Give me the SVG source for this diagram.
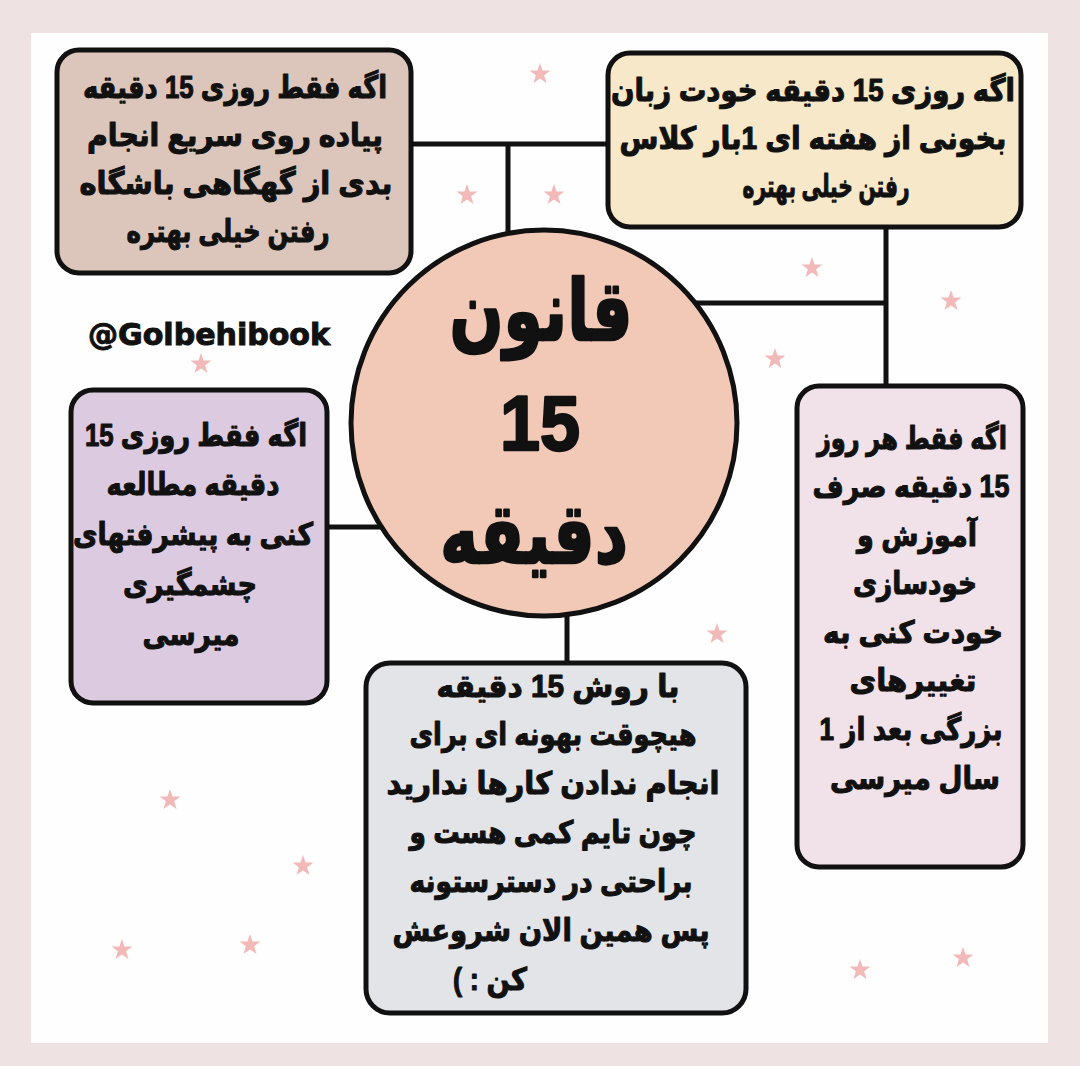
<svg xmlns="http://www.w3.org/2000/svg" width="1080" height="1066" viewBox="0 0 1080 1066">
  <style>
    .fa { font-family: 'Liberation Sans', 'DejaVu Sans', sans-serif; font-weight: bold; font-size: 31px; text-anchor: middle; fill: #111; stroke: #111; stroke-width: 1.1; stroke-linejoin: round; direction: rtl; }
    .big { font-family: 'Liberation Sans', 'DejaVu Sans', sans-serif; font-weight: bold; text-anchor: middle; fill: #111; stroke: #111; stroke-width: 2.5; stroke-linejoin: round; direction: rtl; }
    .box { stroke: #111; stroke-width: 5; }
    .line { stroke: #111; stroke-width: 5; fill: none; }
    .star { fill: #f2b9b9; }
  </style>
  <defs>
    <polygon id="star" points="0,-11 2.59,-3.56 10.46,-3.4 4.18,1.36 6.47,8.9 0,4.4 -6.47,8.9 -4.18,1.36 -10.46,-3.4 -2.59,-3.56"/>
  </defs>

  <rect x="0" y="0" width="1080" height="1066" fill="#efe2e2"/>
  <rect x="31" y="33" width="1017" height="1010" fill="#fefefe"/>

  <g id="stars" class="star">
    <use href="#star" x="540" y="74"/>
    <use href="#star" x="467" y="195"/>
    <use href="#star" x="554" y="195"/>
    <use href="#star" x="812" y="268"/>
    <use href="#star" x="951" y="301"/>
    <use href="#star" x="775" y="359"/>
    <use href="#star" x="201" y="364"/>
    <use href="#star" x="717" y="634"/>
    <use href="#star" x="170" y="800"/>
    <use href="#star" x="303" y="866"/>
    <use href="#star" x="122" y="950"/>
    <use href="#star" x="250" y="945"/>
    <use href="#star" x="860" y="970"/>
    <use href="#star" x="963" y="958"/>
  </g>

  <g id="connectors" class="line">
    <line x1="410" y1="144" x2="607" y2="144"/>
    <line x1="508" y1="144" x2="508" y2="235"/>
    <line x1="886" y1="226" x2="886" y2="388"/>
    <line x1="693" y1="303" x2="886" y2="303"/>
    <line x1="324" y1="527" x2="384" y2="527"/>
    <line x1="567" y1="612" x2="567" y2="665"/>
  </g>

  <g id="node-top-left">
    <rect class="box" x="57" y="50" width="354" height="223" rx="22" fill="#dcc6bc"/>
    <text class="fa" x="235" y="98" textLength="304" lengthAdjust="spacingAndGlyphs">اگه فقط روزی 15 دقیقه</text>
    <text class="fa" x="235" y="146" textLength="296" lengthAdjust="spacingAndGlyphs">پیاده روی سریع انجام</text>
    <text class="fa" x="236" y="194" textLength="313" lengthAdjust="spacingAndGlyphs">بدی از گهگاهی باشگاه</text>
    <text class="fa" x="228" y="242" textLength="203" lengthAdjust="spacingAndGlyphs">رفتن خیلی بهتره</text>
  </g>

  <g id="node-top-right">
    <rect class="box" x="608" y="53" width="413" height="174" rx="22" fill="#f6e8c8"/>
    <text class="fa" x="813" y="101" textLength="404" lengthAdjust="spacingAndGlyphs">اگه روزی 15 دقیقه خودت زبان</text>
    <text class="fa" x="813" y="149" textLength="387" lengthAdjust="spacingAndGlyphs">بخونی از هفته ای 1بار کلاس</text>
    <text class="fa" x="826" y="197" textLength="167" lengthAdjust="spacingAndGlyphs">رفتن خیلی بهتره</text>
  </g>

  <g id="node-center">
    <circle class="box" cx="544" cy="423" r="193" fill="#f2c8b6"/>
    <text class="big" x="541" y="340" font-size="84" textLength="183" lengthAdjust="spacingAndGlyphs">قانون</text>
    <text class="big" x="540" y="450" font-size="78" textLength="80" lengthAdjust="spacingAndGlyphs">15</text>
    <text class="big" x="534" y="563" font-size="84" textLength="188" lengthAdjust="spacingAndGlyphs">دقیقه</text>
  </g>

  <g id="handle">
    <text x="209" y="345" font-family="'DejaVu Sans', sans-serif" font-weight="bold" font-size="30" text-anchor="middle" fill="#111" stroke="#111" stroke-width="1" textLength="242" lengthAdjust="spacingAndGlyphs">@Golbehibook</text>
  </g>

  <g id="node-left">
    <rect class="box" x="71" y="390" width="256" height="313" rx="22" fill="#dccae0"/>
    <text class="fa" x="196" y="446" textLength="222" lengthAdjust="spacingAndGlyphs">اگه فقط روزی 15</text>
    <text class="fa" x="193" y="495" textLength="173" lengthAdjust="spacingAndGlyphs">دقیقه مطالعه</text>
    <text class="fa" x="193" y="545" textLength="240" lengthAdjust="spacingAndGlyphs">کنی به پیشرفتهای</text>
    <text class="fa" x="190" y="595" textLength="134" lengthAdjust="spacingAndGlyphs">چشمگیری</text>
    <text class="fa" x="191" y="645" textLength="97" lengthAdjust="spacingAndGlyphs">میرسی</text>
  </g>

  <g id="node-right">
    <rect class="box" x="797" y="386" width="226" height="481" rx="22" fill="#f1e1e8"/>
    <text class="fa" x="912" y="449" textLength="190" lengthAdjust="spacingAndGlyphs">اگه فقط هر روز</text>
    <text class="fa" x="911" y="497" textLength="197" lengthAdjust="spacingAndGlyphs">15 دقیقه صرف</text>
    <text class="fa" x="917" y="546" textLength="120" lengthAdjust="spacingAndGlyphs">آموزش و</text>
    <text class="fa" x="915" y="594" textLength="124" lengthAdjust="spacingAndGlyphs">خودسازی</text>
    <text class="fa" x="913" y="643" textLength="180" lengthAdjust="spacingAndGlyphs">خودت کنی به</text>
    <text class="fa" x="913" y="691" textLength="127" lengthAdjust="spacingAndGlyphs">تغییرهای</text>
    <text class="fa" x="911" y="740" textLength="183" lengthAdjust="spacingAndGlyphs">بزرگی بعد از 1</text>
    <text class="fa" x="915" y="789" textLength="170" lengthAdjust="spacingAndGlyphs">سال میرسی</text>
  </g>

  <g id="node-bottom">
    <rect class="box" x="366" y="663" width="380" height="350" rx="24" fill="#e3e4e8"/>
    <text class="fa" x="558" y="697" textLength="243" lengthAdjust="spacingAndGlyphs">با روش 15 دقیقه</text>
    <text class="fa" x="553" y="745" textLength="287" lengthAdjust="spacingAndGlyphs">هیچوقت بهونه ای برای</text>
    <text class="fa" x="553" y="794" textLength="333" lengthAdjust="spacingAndGlyphs">انجام ندادن کارها ندارید</text>
    <text class="fa" x="553" y="843" textLength="287" lengthAdjust="spacingAndGlyphs">چون تایم کمی هست و</text>
    <text class="fa" x="551" y="892" textLength="283" lengthAdjust="spacingAndGlyphs">براحتی در دسترستونه</text>
    <text class="fa" x="551" y="941" textLength="317" lengthAdjust="spacingAndGlyphs">پس همین الان شروعش</text>
    <text class="fa" x="490" y="990" textLength="74" lengthAdjust="spacingAndGlyphs">کن : )</text>
  </g>
</svg>
